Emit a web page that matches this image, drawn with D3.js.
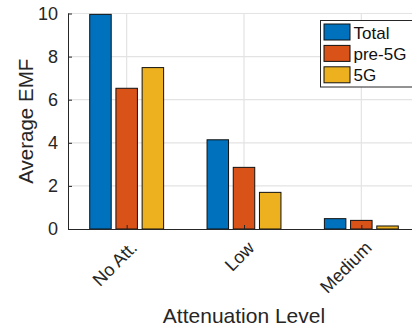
<!DOCTYPE html>
<html>
<head>
<meta charset="utf-8">
<script src="https://cdn.jsdelivr.net/npm/d3@7"></script>
<style>
  body { margin: 0; background: #fff; }
  svg { display: block; font-family: "Liberation Sans", Arial, sans-serif; }
</style>
</head>
<body>
<svg id="chart"></svg>
<script>
// data
const categories = ["No Att.", "Low", "Medium"];
const series = ["Total", "pre-5G", "5G"];
const colors = ["#0072BD", "#D95319", "#EDB120"];
const totalValues = [9.96, 4.14, 0.48];
const pre5gValues = [6.53, 2.86, 0.40];
const fiveGValues = [7.49, 1.70, 0.14];
const yTicks = [0, 2, 4, 6, 8, 10];

const seriesValues = [totalValues, pre5gValues, fiveGValues];

const width = 412;
const height = 329;
const margin = {top: 13.5, left: 68, bottom: 100};
const plotBottom = height - margin.bottom;

const svg = d3.select('#chart')
  .attr('width', width)
  .attr('height', height);

// scales (x in category units, like matlab's bar positions)
const xscale = d3.scaleLinear().domain([0.5, 3.5]).range([margin.left, 420]);
const yscale = d3.scaleLinear().domain([0, 10]).range([plotBottom, margin.top]);
const inner = d3.scaleBand().domain(series).range([-36.95, 36.95]).paddingInner(0.18);
const cscale = d3.scaleOrdinal().domain(series).range(colors);

// grid
const grid = svg.append('g').attr('class', 'grid');
grid.selectAll('line.h').data(yTicks.slice(1)).enter().append('line')
  .attr('x1', margin.left).attr('x2', width)
  .attr('y1', (d) => yscale(d)).attr('y2', (d) => yscale(d))
  .attr('stroke', '#e3e3e3').attr('stroke-width', 1.2);
grid.selectAll('line.v').data(categories).enter().append('line')
  .attr('x1', (d, i) => xscale(i + 1)).attr('x2', (d, i) => xscale(i + 1))
  .attr('y1', margin.top).attr('y2', plotBottom)
  .attr('stroke', '#e3e3e3').attr('stroke-width', 1.2);

// bars
const rows = categories.map((c, i) => ({
  cat: c,
  idx: i,
  values: series.map((s, j) => ({key: s, value: seriesValues[j][i]}))
}));

const groups = svg.selectAll('g.cat').data(rows).enter().append('g')
  .attr('class', 'cat')
  .attr('transform', (d) => `translate(${xscale(d.idx + 1)},0)`);

groups.selectAll('rect').data((d) => d.values).enter().append('rect')
  .attr('x', (d) => inner(d.key))
  .attr('width', inner.bandwidth())
  .attr('y', (d) => yscale(d.value))
  .attr('height', (d) => plotBottom - yscale(d.value))
  .attr('fill', (d) => cscale(d.key))
  .attr('stroke', '#111')
  .attr('stroke-width', 1);

// y axis
const yaxis = d3.axisLeft(yscale).tickValues(yTicks).tickSize(-4).tickPadding(10).tickFormat(d3.format('d'));
const g_yaxis = svg.append('g')
  .attr('transform', `translate(${margin.left},0)`)
  .call(yaxis);
g_yaxis.select('.domain').attr('stroke', '#262626').attr('d', `M0.5,${margin.top}V${plotBottom}`);
g_yaxis.selectAll('.tick line').attr('stroke', '#262626');
g_yaxis.selectAll('.tick text')
  .attr('fill', '#262626')
  .style('font-size', '18px')
  .style('font-family', '"Liberation Sans", Arial, sans-serif');

// x axis
const xaxis = d3.axisBottom(xscale).tickValues([1, 2, 3]).tickSize(-4).tickFormat((d) => categories[d - 1]);
const g_xaxis = svg.append('g')
  .attr('transform', `translate(0,${plotBottom})`)
  .call(xaxis);
g_xaxis.select('.domain').attr('stroke', '#262626').attr('d', `M${margin.left},0.5H${width}`);
g_xaxis.selectAll('.tick line').attr('stroke', '#262626');
g_xaxis.selectAll('.tick text')
  .attr('fill', '#262626')
  .style('font-size', '18px')
  .style('font-family', '"Liberation Sans", Arial, sans-serif')
  .attr('text-anchor', 'end')
  .attr('dy', null)
  .attr('y', 0)
  .attr('transform', 'translate(11,20) rotate(-45)');

// axis labels
svg.append('text')
  .attr('x', (margin.left + width) / 2 + 4)
  .attr('y', 323)
  .attr('text-anchor', 'middle')
  .attr('fill', '#262626')
  .style('font-size', '21px')
  .text('Attenuation Level');

svg.append('text')
  .attr('transform', `translate(33,${(margin.top + plotBottom) / 2}) rotate(-90)`)
  .attr('text-anchor', 'middle')
  .attr('fill', '#262626')
  .style('font-size', '20.5px')
  .text('Average EMF');

// legend
const legend = svg.append('g').attr('transform', 'translate(320.5,20.5)');
legend.append('rect')
  .attr('width', 100).attr('height', 66.5)
  .attr('fill', '#fff').attr('stroke', '#262626').attr('stroke-width', 1);
const items = legend.selectAll('g.item').data(series).enter().append('g')
  .attr('class', 'item')
  .attr('transform', (d, i) => `translate(3.5,${3.5 + i * 21.4})`);
items.append('rect')
  .attr('width', 26).attr('height', 16)
  .attr('fill', (d) => cscale(d))
  .attr('stroke', '#111').attr('stroke-width', 1);
items.append('text')
  .attr('x', 29.5).attr('y', 14.5)
  .attr('fill', '#111')
  .style('font-size', '17px')
  .text((d) => d);
</script>
</body>
</html>
